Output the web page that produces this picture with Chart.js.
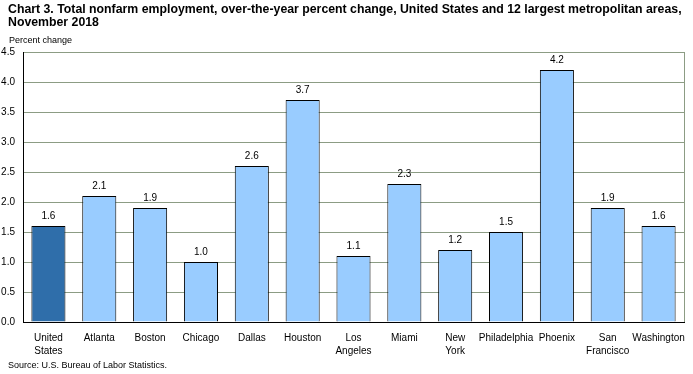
<!DOCTYPE html>
<html lang="en">
<head>
<meta charset="UTF-8">
<title>Chart 3. Total nonfarm employment</title>
<script src="https://cdn.jsdelivr.net/npm/chart.js"></script>
<style>
  body { margin: 0; background: #fff; }
  #wrap { width: 693px; height: 374px; position: relative; }
</style>
</head>
<body>
<div id="wrap"><canvas id="grafico"></canvas></div>
<script>
const areas = [
  ['United', 'States'], 'Atlanta', 'Boston', 'Chicago', 'Dallas', 'Houston',
  ['Los', 'Angeles'], 'Miami', ['New', 'York'], 'Philadelphia', 'Phoenix',
  ['San', 'Francisco'], 'Washington'
];
const cambio = [1.6, 2.1, 1.9, 1.0, 2.6, 3.7, 1.1, 2.3, 1.2, 1.5, 4.2, 1.9, 1.6];
const yTicks = [0, 0.5, 1, 1.5, 2, 2.5, 3, 3.5, 4, 4.5];

const tituloLineas = [
  'Chart 3. Total nonfarm employment, over-the-year percent change, United States and 12 largest metropolitan areas,',
  'November 2018'
];
const fuente = 'Source: U.S. Bureau of Labor Statistics.';
const unidad = 'Percent change';

const FONT = 'Arial, "Liberation Sans", sans-serif';

// textos fijos: titulo, unidad y fuente
const textos = {
  id: 'textos',
  afterDraw(chart) {
    const ctx = chart.ctx;
    ctx.save();
    ctx.fillStyle = '#000';
    ctx.textBaseline = 'middle';
    ctx.textAlign = 'left';
    ctx.font = 'bold 12.3px ' + FONT;
    ctx.fillText(tituloLineas[0], 8, 10);
    ctx.fillText(tituloLineas[1], 8, 23);
    ctx.font = '9px ' + FONT;
    ctx.fillText(unidad, 9, 41);
    ctx.fillText(fuente, 8, 366);
    // borde derecho del area
    const a = chart.chartArea;
    ctx.strokeStyle = '#8c9c84';
    ctx.lineWidth = 1;
    ctx.beginPath();
    ctx.moveTo(Math.round(a.right) + 0.5, a.top);
    ctx.lineTo(Math.round(a.right) + 0.5, a.bottom);
    ctx.stroke();
    ctx.restore();
  }
};

// etiquetas de valor encima de cada barra
const etiquetas = {
  id: 'etiquetas',
  afterDatasetsDraw(chart) {
    const ctx = chart.ctx;
    const meta = chart.getDatasetMeta(0);
    ctx.save();
    ctx.fillStyle = '#000';
    ctx.font = '10px ' + FONT;
    ctx.textAlign = 'center';
    ctx.textBaseline = 'bottom';
    meta.data.forEach((bar, i) => {
      ctx.fillText(cambio[i].toFixed(1), bar.x, bar.y - 5);
    });
    ctx.restore();
  }
};

const colores = cambio.map((v, i) => i === 0 ? '#2f6eaa' : '#99ccff');

new Chart(document.getElementById('grafico'), {
  type: 'bar',
  data: {
    labels: areas,
    datasets: [{
      data: cambio,
      backgroundColor: colores,
      borderColor: '#000',
      borderWidth: 1,
      borderSkipped: 'bottom',
      barPercentage: 0.67,
      categoryPercentage: 1
    }]
  },
  options: {
    responsive: true,
    maintainAspectRatio: false,
    animation: false,
    layout: { padding: { top: 52, right: 9, left: 0, bottom: 0 } },
    plugins: {
      legend: { display: false },
      tooltip: { enabled: false }
    },
    scales: {
      x: {
        grid: { display: false },
        border: { color: '#000', width: 1 },
        ticks: {
          color: '#000',
          font: { family: FONT, size: 10, lineHeight: 1.3 },
          padding: 2,
          maxRotation: 0,
          autoSkip: false
        },
        afterFit(scale) { scale.height = 52; }
      },
      y: {
        min: 0,
        max: 4.5,
        afterBuildTicks(scale) { scale.ticks = yTicks.map(v => ({ value: v })); },
        grid: { color: '#8c9c84', drawTicks: false },
        border: { color: '#000', width: 1 },
        ticks: {
          color: '#000',
          font: { family: FONT, size: 10 },
          padding: 8,
          callback: v => Number(v).toFixed(1)
        },
        afterFit(scale) { scale.width = 23; }
      }
    }
  },
  plugins: [textos, etiquetas]
});
</script>
</body>
</html>
